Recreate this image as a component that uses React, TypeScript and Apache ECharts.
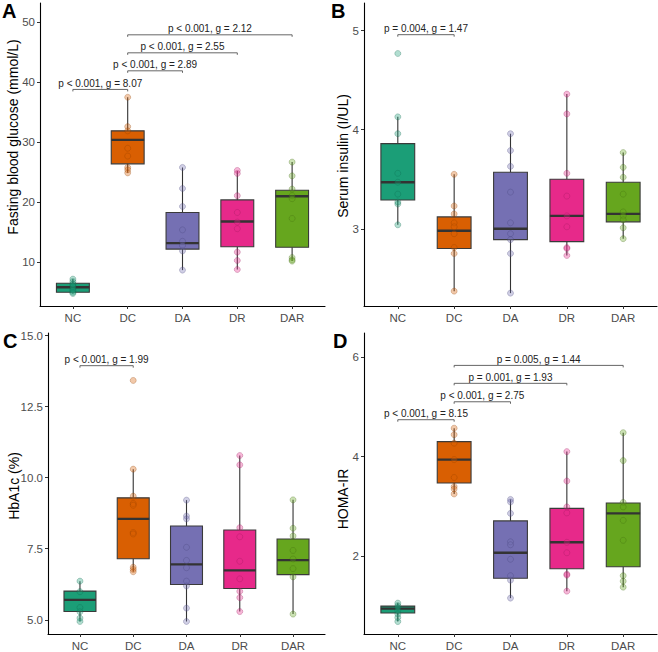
import React, { useEffect, useRef } from "react";
import * as echarts from "echarts";

const categories = ["NC", "DC", "DA", "DR", "DAR"];
const groupColors = ["#1B9E77", "#D95F02", "#7570B3", "#E7298A", "#66A61E"];
const pointFills = ["rgba(27,158,119,0.42)", "rgba(217,95,2,0.42)", "rgba(117,112,179,0.42)", "rgba(231,41,138,0.42)", "rgba(102,166,30,0.42)"];
const pointStrokes = ["rgba(15,100,75,0.35)", "rgba(140,60,0,0.35)", "rgba(70,66,120,0.35)", "rgba(150,25,90,0.35)", "rgba(60,100,15,0.35)"];

// Box summaries per group: [min, Q1, median, Q3, max]
const glucoseBoxes = [
  [4.8, 5.0, 5.85, 6.5, 7.2],
  [24.9, 26.4, 30.4, 31.9, 37.5],
  [8.7, 12.2, 13.2, 18.3, 25.8],
  [8.8, 12.6, 16.8, 20.4, 25.2],
  [10.2, 12.5, 21.0, 22.0, 26.7],
];
const glucosePoints = [
  [7.2, 6.8, 6.4, 6.1, 5.9, 5.6, 5.3, 5.0, 4.8],
  [37.5, 32.6, 31.9, 29.0, 27.7, 25.8, 25.4, 24.9],
  [25.8, 22.3, 19.3, 15.4, 13.5, 12.8, 11.9, 8.7],
  [25.3, 24.8, 21.1, 18.3, 16.7, 15.6, 11.7, 10.3, 8.8],
  [26.7, 24.4, 22.2, 21.1, 20.6, 17.3, 10.8, 10.4, 10.2],
];
const glucoseBrackets = [[1, 2, 38.8], [2, 3, 41.9], [2, 4, 44.9], [2, 5, 47.9]];
const glucoseLabels = ["p < 0.001, g = 8.07", "p < 0.001, g = 2.89", "p < 0.001, g = 2.55", "p < 0.001, g = 2.12"];
const glucoseTicks = [10, 20, 30, 40, 50];

const insulinBoxes = [
  [3.04, 3.29, 3.47, 3.86, 4.13],
  [2.37, 2.80, 2.98, 3.12, 3.55],
  [2.35, 2.89, 3.0, 3.57, 3.96],
  [2.73, 2.87, 3.13, 3.50, 4.36],
  [2.90, 3.07, 3.15, 3.47, 3.77],
];
const insulinPoints = [
  [4.77, 4.13, 3.96, 3.56, 3.47, 3.35, 3.27, 3.25, 3.04],
  [3.55, 3.23, 3.15, 3.06, 3.02, 2.95, 2.81, 2.75, 2.37],
  [3.96, 3.79, 3.63, 3.37, 3.06, 2.95, 2.89, 2.75, 2.35],
  [4.36, 4.16, 3.56, 3.33, 3.13, 3.02, 2.81, 2.80, 2.73],
  [3.77, 3.62, 3.52, 3.35, 3.17, 3.13, 3.09, 3.01, 2.90],
];
const insulinBrackets = [[1, 2, 4.96]];
const insulinLabels = ["p = 0.004, g = 1.47"];
const insulinTicks = [3, 4, 5];

const hba1cBoxes = [
  [4.94, 5.29, 5.70, 6.01, 6.36],
  [6.69, 7.15, 8.55, 9.29, 10.3],
  [4.94, 6.24, 6.95, 8.30, 9.21],
  [5.29, 6.10, 6.74, 8.16, 10.78],
  [5.2, 6.59, 7.10, 7.84, 9.22],
];
const hba1cPoints = [
  [6.36, 5.99, 5.43, 5.28, 5.06, 4.94],
  [13.42, 10.3, 9.35, 9.09, 9.03, 8.07, 8.02, 6.85, 6.77, 6.69],
  [9.21, 8.65, 8.55, 7.55, 7.09, 6.83, 6.36, 6.19, 5.41, 4.94],
  [10.78, 10.45, 8.24, 7.92, 7.06, 6.44, 6.0, 5.78, 5.29],
  [9.22, 8.22, 7.95, 7.44, 7.14, 6.80, 6.51, 5.2],
];
const hba1cBrackets = [[1, 2, 13.94]];
const hba1cLabels = ["p < 0.001, g = 1.99"];
const hba1cTicks = [5, 7.5, 10, 12.5, 15];

const homaBoxes = [
  [0.69, 0.86, 0.95, 1.0, 1.06],
  [3.25, 3.47, 3.94, 4.30, 4.57],
  [1.16, 1.56, 2.07, 2.71, 3.14],
  [1.30, 1.75, 2.28, 2.96, 4.10],
  [1.38, 1.79, 2.86, 3.07, 4.48],
];
const homaPoints = [
  [1.06, 1.01, 0.97, 0.91, 0.84, 0.77, 0.69],
  [4.57, 4.44, 4.27, 3.94, 3.58, 3.40, 3.35, 3.25],
  [3.14, 3.09, 2.86, 2.29, 2.23, 1.94, 1.61, 1.52, 1.16],
  [4.10, 3.51, 2.99, 2.87, 2.28, 2.07, 1.64, 1.62, 1.30],
  [4.48, 3.92, 3.08, 2.99, 2.72, 2.32, 1.61, 1.50, 1.38],
];
const homaBrackets = [[1, 2, 4.74], [2, 3, 5.10], [2, 4, 5.47], [2, 5, 5.83]];
const homaLabels = ["p < 0.001, g = 8.15", "p < 0.001, g = 2.75", "p = 0.001, g = 1.93", "p = 0.005, g = 1.44"];
const homaTicks = [2, 4, 6];

const FONT = "'Liberation Sans', Arial, Helvetica, sans-serif";

const panels = [
  {
    letter: "A", title: "Fasting blood glucose (mmol/L)",
    boxes: glucoseBoxes, points: glucosePoints, brackets: glucoseBrackets, labels: glucoseLabels, ticks: glucoseTicks,
    yMin: 2.72, yMax: 53.2, digits: 0,
    grid: { left: 40, top: 3, width: 285, height: 303 },
    titleAt: [13, 137], letterAt: [2, 11],
  },
  {
    letter: "B", title: "Serum insulin (I/UL)",
    boxes: insulinBoxes, points: insulinPoints, brackets: insulinBrackets, labels: insulinLabels, ticks: insulinTicks,
    yMin: 2.22, yMax: 5.28, digits: 0,
    grid: { left: 364, top: 3, width: 293, height: 303 },
    titleAt: [343, 156], letterAt: [331, 11],
  },
  {
    letter: "C", title: "HbA1c (%)",
    boxes: hba1cBoxes, points: hba1cPoints, brackets: hba1cBrackets, labels: hba1cLabels, ticks: hba1cTicks,
    yMin: 4.5, yMax: 15.09, digits: 1,
    grid: { left: 48, top: 333, width: 277, height: 304 },
    titleAt: [14, 486], letterAt: [3, 341],
  },
  {
    letter: "D", title: "HOMA-IR",
    boxes: homaBoxes, points: homaPoints, brackets: homaBrackets, labels: homaLabels, ticks: homaTicks,
    yMin: 0.44, yMax: 6.48, digits: 0,
    grid: { left: 364, top: 333, width: 293, height: 304 },
    titleAt: [343, 499], letterAt: [333, 341],
  },
];

function buildOption() {
  const grid: any[] = [];
  const xAxis: any[] = [];
  const yAxis: any[] = [];
  const series: any[] = [];
  const graphic: any[] = [];

  panels.forEach((p, i) => {
    grid.push({ ...p.grid, containLabel: false });
    xAxis.push({
      type: "value", gridIndex: i, min: 0.4, max: 5.6,
      splitLine: { show: false },
      axisLine: { show: true, lineStyle: { color: "#000", width: 1.1 } },
      axisTick: { show: true, customValues: [1, 2, 3, 4, 5], length: 3, lineStyle: { color: "#333", width: 1 } },
      axisLabel: {
        customValues: [1, 2, 3, 4, 5], margin: 6,
        formatter: (v: number) => categories[Math.round(v) - 1] || "",
        color: "#4D4D4D", fontSize: 11.5, fontFamily: FONT,
      },
    });
    yAxis.push({
      type: "value", gridIndex: i, min: p.yMin, max: p.yMax,
      splitLine: { show: false },
      axisLine: { show: true, lineStyle: { color: "#000", width: 1.1 } },
      axisTick: { show: true, customValues: p.ticks, length: 3, lineStyle: { color: "#333", width: 1 } },
      axisLabel: {
        customValues: p.ticks, margin: 5,
        formatter: (v: number) => v.toFixed(p.digits),
        color: "#4D4D4D", fontSize: 11.5, fontFamily: FONT,
      },
    });

    // boxes with whiskers and a heavier median bar
    series.push({
      type: "custom", xAxisIndex: i, yAxisIndex: i, clip: false,
      data: p.boxes.map((b, k) => [k + 1, ...b]),
      encode: { x: 0, y: [1, 2, 3, 4, 5] },
      renderItem: (params: any, api: any) => {
        const x = api.value(0);
        const lo = api.coord([x, api.value(1)]);
        const q1 = api.coord([x, api.value(2)]);
        const md = api.coord([x, api.value(3)]);
        const q3 = api.coord([x, api.value(4)]);
        const hi = api.coord([x, api.value(5)]);
        const w = api.size([0.6, 0])[0];
        const color = groupColors[x - 1];
        return {
          type: "group",
          children: [
            { type: "line", shape: { x1: lo[0], y1: lo[1], x2: q1[0], y2: q1[1] }, style: { stroke: "#333", lineWidth: 1.1 } },
            { type: "line", shape: { x1: q3[0], y1: q3[1], x2: hi[0], y2: hi[1] }, style: { stroke: "#333", lineWidth: 1.1 } },
            { type: "rect", shape: { x: q1[0] - w / 2, y: q3[1], width: w, height: q1[1] - q3[1] }, style: { fill: color, stroke: "#3a3a3a", lineWidth: 1.1 } },
            { type: "line", shape: { x1: md[0] - w / 2, y1: md[1], x2: md[0] + w / 2, y2: md[1] }, style: { stroke: "#333", lineWidth: 2.4 } },
          ],
        };
      },
    });

    // individual observations
    const pts: any[] = [];
    p.points.forEach((vals, k) => {
      vals.forEach((v) => {
        pts.push({ value: [k + 1, v], itemStyle: { color: pointFills[k], borderColor: pointStrokes[k], borderWidth: 1 } });
      });
    });
    series.push({
      type: "scatter", xAxisIndex: i, yAxisIndex: i, symbol: "circle", symbolSize: 6,
      data: pts, silent: true,
    });

    // significance brackets
    const labels = p.labels;
    series.push({
      type: "custom", xAxisIndex: i, yAxisIndex: i, clip: false,
      data: p.brackets,
      encode: { x: [0, 1], y: 2 },
      renderItem: (params: any, api: any) => {
        const a = api.coord([api.value(0), api.value(2)]);
        const b = api.coord([api.value(1), api.value(2)]);
        return {
          type: "group",
          children: [
            {
              type: "polyline",
              shape: { points: [[a[0], a[1] + 2], [a[0], a[1]], [b[0], b[1]], [b[0], b[1] + 2]] },
              style: { stroke: "#555", lineWidth: 0.9, fill: null },
            },
            {
              type: "text", x: (a[0] + b[0]) / 2, y: a[1] - 1,
              style: { text: labels[params.dataIndex], fontSize: 10, fontFamily: FONT, fill: "#222", align: "center", verticalAlign: "bottom" },
            },
          ],
        };
      },
    });

    graphic.push({
      type: "text", x: p.titleAt[0], y: p.titleAt[1], rotation: Math.PI / 2,
      style: { text: p.title, fontSize: 14, fontFamily: FONT, fill: "#000", align: "center", verticalAlign: "middle" },
    });
    graphic.push({
      type: "text", x: p.letterAt[0], y: p.letterAt[1],
      style: { text: p.letter, fontSize: 20, fontWeight: "bold", fontFamily: FONT, fill: "#000", align: "left", verticalAlign: "middle" },
    });
  });

  return { animation: false, backgroundColor: "#fff", grid, xAxis, yAxis, series, graphic };
}

export default function App() {
  const ref = useRef<HTMLDivElement>(null);
  useEffect(() => {
    if (!ref.current) return;
    const chart = echarts.init(ref.current, undefined, { renderer: "svg" });
    chart.setOption(buildOption() as any);
    return () => chart.dispose();
  }, []);
  return <div ref={ref} style={{ position: "fixed", left: 0, top: 0, width: 658, height: 652, background: "#fff" }} />;
}
